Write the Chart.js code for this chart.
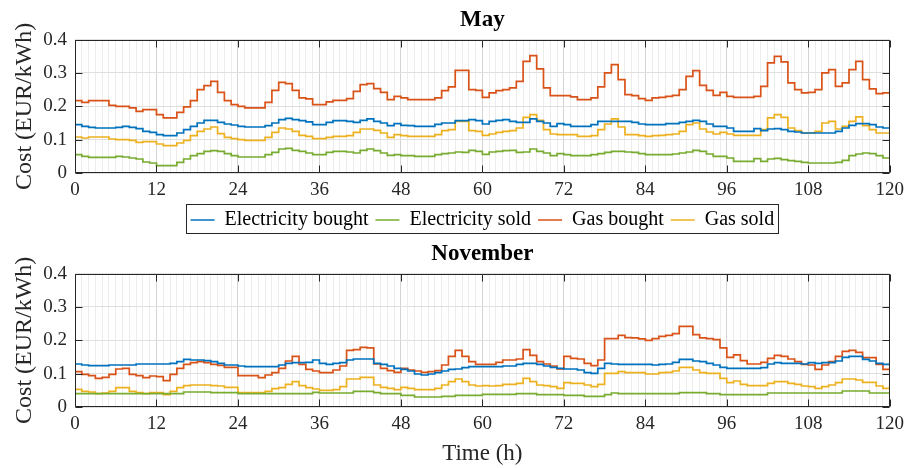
<!DOCTYPE html>
<html>
<head>
<meta charset="utf-8">
<script src="https://cdn.jsdelivr.net/npm/chart.js@4/dist/chart.umd.min.js"></script>
<style>
  body { margin: 0; background: #fff; }
  canvas { position: absolute; left: 0; }
</style>
</head>
<body>
<canvas id="mayChart" width="910" height="240" style="top:0"></canvas>
<canvas id="novChart" width="910" height="234" style="top:234px"></canvas>
<script>
// hourly tariffs over five days, last entry closes the final step at t = 120 h
const hours = Array.from({length: 121}, (_, i) => i);
const seriesNames = ['Electricity bought', 'Electricity sold', 'Gas bought', 'Gas sold'];
const seriesColors = ['#0072BD', '#77AC30', '#D95319', '#EDB120'];
const yTicks = [0, 0.1, 0.2, 0.3, 0.4];

const mayElecBought = [
  0.145, 0.140, 0.137, 0.135, 0.135, 0.135, 0.137, 0.140, 0.137, 0.133,
  0.125, 0.122, 0.115, 0.112, 0.112, 0.120, 0.130, 0.140, 0.150, 0.158,
  0.158, 0.152, 0.147, 0.144, 0.140, 0.138, 0.138, 0.138, 0.142, 0.150,
  0.160, 0.164, 0.160, 0.157, 0.153, 0.145, 0.145, 0.152, 0.157, 0.157,
  0.155, 0.152, 0.158, 0.162, 0.155, 0.150, 0.142, 0.148, 0.143, 0.142,
  0.140, 0.140, 0.140, 0.146, 0.150, 0.150, 0.157, 0.157, 0.160, 0.157,
  0.147, 0.155, 0.158, 0.160, 0.155, 0.152, 0.152, 0.162, 0.155, 0.150,
  0.140, 0.148, 0.145, 0.140, 0.140, 0.140, 0.145, 0.155, 0.155, 0.155,
  0.155, 0.155, 0.152, 0.147, 0.145, 0.145, 0.145, 0.148, 0.148, 0.152,
  0.155, 0.158, 0.155, 0.147, 0.140, 0.140, 0.135, 0.125, 0.125, 0.125,
  0.133, 0.127, 0.132, 0.133, 0.130, 0.125, 0.123, 0.120, 0.120, 0.120,
  0.120, 0.120, 0.125, 0.135, 0.143, 0.148, 0.148, 0.145, 0.138, 0.135,
  0.135
];
const mayElecSold = [
  0.055, 0.050, 0.047, 0.047, 0.047, 0.047, 0.050, 0.048, 0.045, 0.042,
  0.033, 0.030, 0.022, 0.022, 0.022, 0.032, 0.042, 0.052, 0.058, 0.065,
  0.067, 0.065, 0.058, 0.052, 0.048, 0.048, 0.048, 0.048, 0.055, 0.062,
  0.072, 0.074, 0.068, 0.065, 0.060, 0.055, 0.055, 0.062, 0.065, 0.065,
  0.063, 0.060, 0.068, 0.072, 0.067, 0.060, 0.053, 0.055, 0.052, 0.052,
  0.050, 0.050, 0.050, 0.055, 0.058, 0.060, 0.063, 0.062, 0.068, 0.065,
  0.056, 0.063, 0.065, 0.067, 0.068, 0.062, 0.063, 0.072, 0.065, 0.060,
  0.052, 0.058, 0.055, 0.052, 0.052, 0.052, 0.055, 0.058, 0.062, 0.065,
  0.065, 0.063, 0.062, 0.058, 0.055, 0.055, 0.055, 0.055, 0.057, 0.060,
  0.063, 0.068, 0.065, 0.057, 0.050, 0.050, 0.045, 0.035, 0.035, 0.035,
  0.043, 0.035, 0.042, 0.044, 0.040, 0.037, 0.035, 0.032, 0.030, 0.030,
  0.030, 0.030, 0.032, 0.038, 0.052, 0.057, 0.060, 0.058, 0.052, 0.045,
  0.045
];
const mayGasBought = [
  0.217, 0.212, 0.217, 0.217, 0.217, 0.203, 0.200, 0.200, 0.195, 0.185,
  0.190, 0.190, 0.175, 0.165, 0.165, 0.182, 0.198, 0.217, 0.250, 0.262,
  0.275, 0.242, 0.217, 0.205, 0.200, 0.195, 0.195, 0.195, 0.212, 0.248,
  0.272, 0.268, 0.248, 0.225, 0.222, 0.205, 0.205, 0.213, 0.218, 0.218,
  0.223, 0.245, 0.265, 0.268, 0.253, 0.242, 0.220, 0.230, 0.225, 0.220,
  0.220, 0.220, 0.220, 0.225, 0.247, 0.258, 0.308, 0.308, 0.250, 0.248,
  0.227, 0.240, 0.247, 0.250, 0.255, 0.275, 0.335, 0.352, 0.312, 0.255,
  0.232, 0.232, 0.232, 0.228, 0.220, 0.220, 0.225, 0.258, 0.300, 0.325,
  0.280, 0.235, 0.232, 0.223, 0.218, 0.225, 0.227, 0.230, 0.233, 0.250,
  0.290, 0.307, 0.263, 0.248, 0.233, 0.242, 0.230, 0.227, 0.227, 0.227,
  0.230, 0.260, 0.330, 0.350, 0.333, 0.270, 0.250, 0.240, 0.242, 0.250,
  0.300, 0.310, 0.260, 0.270, 0.310, 0.335, 0.280, 0.252, 0.238, 0.240,
  0.240
];
const mayGasSold = [
  0.108, 0.105, 0.108, 0.108, 0.108, 0.102, 0.100, 0.100, 0.098, 0.092,
  0.094, 0.094, 0.087, 0.082, 0.082, 0.090, 0.098, 0.112, 0.125, 0.132,
  0.138, 0.118, 0.107, 0.103, 0.100, 0.098, 0.098, 0.098, 0.107, 0.122,
  0.135, 0.132, 0.125, 0.113, 0.110, 0.103, 0.103, 0.107, 0.110, 0.110,
  0.112, 0.122, 0.132, 0.132, 0.128, 0.120, 0.107, 0.115, 0.112, 0.110,
  0.110, 0.110, 0.110, 0.115, 0.127, 0.130, 0.155, 0.155, 0.127, 0.125,
  0.113, 0.117, 0.122, 0.125, 0.127, 0.135, 0.167, 0.175, 0.158, 0.130,
  0.117, 0.115, 0.115, 0.115, 0.110, 0.110, 0.112, 0.130, 0.147, 0.162,
  0.138, 0.115, 0.115, 0.112, 0.110, 0.112, 0.113, 0.115, 0.117, 0.125,
  0.145, 0.150, 0.132, 0.123, 0.117, 0.122, 0.117, 0.113, 0.113, 0.113,
  0.113, 0.130, 0.165, 0.175, 0.167, 0.135, 0.127, 0.120, 0.120, 0.125,
  0.150, 0.155, 0.132, 0.140, 0.155, 0.168, 0.142, 0.130, 0.120, 0.120,
  0.120
];

const novElecBought = [
  0.129, 0.126, 0.124, 0.124, 0.124, 0.126, 0.126, 0.126, 0.126, 0.129,
  0.129, 0.129, 0.129, 0.129, 0.131, 0.136, 0.143, 0.141, 0.141, 0.139,
  0.136, 0.131, 0.126, 0.126, 0.123, 0.121, 0.121, 0.121, 0.121, 0.121,
  0.126, 0.131, 0.133, 0.133, 0.134, 0.141, 0.131, 0.128, 0.131, 0.133,
  0.141, 0.144, 0.144, 0.144, 0.131, 0.128, 0.123, 0.116, 0.113, 0.108,
  0.099, 0.096, 0.099, 0.103, 0.108, 0.113, 0.114, 0.118, 0.121, 0.121,
  0.121, 0.121, 0.121, 0.123, 0.123, 0.128, 0.131, 0.131, 0.128, 0.123,
  0.119, 0.116, 0.114, 0.114, 0.111, 0.103, 0.101, 0.116, 0.131, 0.129,
  0.128, 0.128, 0.128, 0.128, 0.128, 0.126, 0.128, 0.129, 0.134, 0.143,
  0.143, 0.138, 0.136, 0.131, 0.126, 0.119, 0.116, 0.116, 0.116, 0.116,
  0.116, 0.118, 0.129, 0.133, 0.131, 0.131, 0.131, 0.129, 0.133, 0.131,
  0.133, 0.133, 0.138, 0.149, 0.152, 0.152, 0.143, 0.138, 0.131, 0.128,
  0.128
];
const novElecSold = [
  0.040, 0.040, 0.040, 0.040, 0.040, 0.040, 0.040, 0.040, 0.040, 0.040,
  0.040, 0.040, 0.040, 0.040, 0.040, 0.040, 0.045, 0.045, 0.045, 0.045,
  0.043, 0.043, 0.043, 0.043, 0.040, 0.040, 0.040, 0.040, 0.040, 0.040,
  0.040, 0.040, 0.040, 0.040, 0.040, 0.044, 0.042, 0.042, 0.042, 0.042,
  0.042, 0.047, 0.047, 0.047, 0.043, 0.040, 0.040, 0.040, 0.035, 0.035,
  0.030, 0.030, 0.030, 0.030, 0.032, 0.032, 0.035, 0.035, 0.035, 0.035,
  0.038, 0.038, 0.038, 0.038, 0.038, 0.040, 0.040, 0.040, 0.037, 0.037,
  0.037, 0.037, 0.035, 0.035, 0.035, 0.032, 0.032, 0.032, 0.037, 0.042,
  0.040, 0.040, 0.040, 0.040, 0.040, 0.040, 0.040, 0.040, 0.040, 0.043,
  0.043, 0.043, 0.043, 0.040, 0.040, 0.037, 0.037, 0.037, 0.037, 0.037,
  0.037, 0.037, 0.042, 0.042, 0.042, 0.042, 0.042, 0.042, 0.042, 0.042,
  0.042, 0.042, 0.042, 0.048, 0.048, 0.048, 0.048, 0.042, 0.042, 0.042,
  0.042
];
const novGasBought = [
  0.106, 0.098, 0.094, 0.086, 0.089, 0.098, 0.114, 0.116, 0.098, 0.094,
  0.088, 0.093, 0.091, 0.079, 0.098, 0.116, 0.128, 0.133, 0.136, 0.133,
  0.128, 0.125, 0.119, 0.119, 0.094, 0.094, 0.094, 0.088, 0.096, 0.103,
  0.116, 0.138, 0.152, 0.128, 0.113, 0.108, 0.103, 0.103, 0.111, 0.123,
  0.170, 0.172, 0.179, 0.177, 0.129, 0.116, 0.109, 0.104, 0.116, 0.111,
  0.108, 0.104, 0.106, 0.109, 0.126, 0.152, 0.170, 0.152, 0.136, 0.128,
  0.128, 0.128, 0.134, 0.141, 0.141, 0.144, 0.172, 0.155, 0.136, 0.129,
  0.123, 0.114, 0.152, 0.146, 0.144, 0.131, 0.124, 0.141, 0.205, 0.205,
  0.215, 0.208, 0.207, 0.204, 0.200, 0.205, 0.212, 0.215, 0.220, 0.242,
  0.242, 0.217, 0.207, 0.205, 0.202, 0.177, 0.149, 0.156, 0.139, 0.129,
  0.129, 0.134, 0.146, 0.155, 0.152, 0.144, 0.136, 0.128, 0.126, 0.113,
  0.126, 0.136, 0.152, 0.167, 0.170, 0.164, 0.148, 0.148, 0.128, 0.113,
  0.136
];
const novGasSold = [
  0.053, 0.047, 0.045, 0.040, 0.042, 0.047, 0.058, 0.058, 0.047, 0.043,
  0.040, 0.043, 0.043, 0.037, 0.047, 0.058, 0.064, 0.066, 0.066, 0.066,
  0.064, 0.063, 0.059, 0.059, 0.043, 0.043, 0.043, 0.043, 0.047, 0.055,
  0.058, 0.068, 0.076, 0.064, 0.058, 0.054, 0.050, 0.050, 0.052, 0.061,
  0.084, 0.084, 0.089, 0.089, 0.066, 0.059, 0.056, 0.052, 0.059, 0.056,
  0.052, 0.052, 0.052, 0.056, 0.066, 0.076, 0.084, 0.076, 0.066, 0.063,
  0.064, 0.063, 0.064, 0.068, 0.068, 0.071, 0.086, 0.076, 0.066, 0.064,
  0.061, 0.056, 0.073, 0.071, 0.071, 0.066, 0.061, 0.068, 0.101, 0.101,
  0.106, 0.103, 0.103, 0.103, 0.099, 0.099, 0.103, 0.104, 0.108, 0.119,
  0.119, 0.111, 0.103, 0.101, 0.101, 0.086, 0.073, 0.078, 0.068, 0.064,
  0.064, 0.064, 0.071, 0.076, 0.076, 0.071, 0.068, 0.063, 0.061, 0.056,
  0.061, 0.066, 0.073, 0.084, 0.084, 0.081, 0.074, 0.074, 0.063, 0.056,
  0.066
];

const FONT = "'Liberation Serif', 'Times New Roman', serif";
const INK = '#262626';

// axes box with inward ticks, drawn over the lines
const frame = {
  id: 'frame',
  afterDatasetsDraw(chart) {
    const {ctx, chartArea: a, scales: {x, y}} = chart;
    const L = Math.round(a.left) + 0.5, R = Math.round(a.right) - 0.5;
    const T = Math.round(a.top) + 0.5, B = Math.round(a.bottom) - 0.5;
    ctx.save();
    ctx.strokeStyle = INK;
    ctx.lineWidth = 1;
    ctx.beginPath();
    x.ticks.filter(t => t.value % 12 === 0).forEach(t => {
      const px = Math.round(x.getPixelForValue(t.value)) + 0.5;
      ctx.moveTo(px, T); ctx.lineTo(px, T + 7);
      ctx.moveTo(px, B); ctx.lineTo(px, B - 7);
    });
    yTicks.forEach(v => {
      const py = Math.round(y.getPixelForValue(v)) + 0.5;
      ctx.moveTo(L, py); ctx.lineTo(L + 7, py);
      ctx.moveTo(R, py); ctx.lineTo(R - 7, py);
    });
    ctx.rect(L, T, R - L, B - T);
    ctx.stroke();
    ctx.restore();
  }
};

// thin border round the legend entries
const legendBox = {
  id: 'legendBox',
  afterDraw(chart) {
    const lg = chart.legend;
    if (!lg || !lg.options.display || !lg.legendHitBoxes.length) return;
    const hb = lg.legendHitBoxes;
    const left = Math.min(...hb.map(b => b.left)) - 5;
    const right = Math.max(...hb.map(b => b.left + b.width)) + 3;
    const top = Math.min(...hb.map(b => b.top)) - 6;
    const bottom = Math.max(...hb.map(b => b.top + b.height)) + 3;
    const ctx = chart.ctx;
    ctx.save();
    ctx.strokeStyle = INK;
    ctx.lineWidth = 1;
    ctx.strokeRect(Math.round(left) + 0.5, Math.round(top) + 0.5,
      Math.round(right - left), Math.round(bottom - top));
    ctx.restore();
  }
};

function makeChart(id, title, series, withLegend) {
  return new Chart(document.getElementById(id), {
    type: 'line',
    data: {
      datasets: seriesNames.map((name, i) => ({
        label: name,
        data: series[i].map((v, k) => ({x: hours[k], y: v})),
        borderColor: seriesColors[i],
        backgroundColor: seriesColors[i],
        borderWidth: 1.7,
        pointRadius: 0,
        stepped: true,
        fill: false
      }))
    },
    options: {
      responsive: false,
      animation: false,
      layout: {padding: {left: 0, right: 17, top: 0, bottom: 0}},
      plugins: {
        title: {
          display: true, text: title, color: '#000', fullSize: false,
          font: {family: FONT, size: 23, weight: 'bold'},
          padding: {top: 6, bottom: 6}
        },
        legend: {
          display: withLegend,
          position: 'bottom',
          fullSize: false,
          labels: {
            usePointStyle: true, pointStyle: 'line', pointStyleWidth: 24,
            color: '#000', font: {family: FONT, size: 20}, padding: 7
          }
        },
        tooltip: {enabled: false}
      },
      scales: {
        x: {
          type: 'linear', min: 0, max: 120,
          ticks: {
            stepSize: 1, autoSkip: false, maxRotation: 0, padding: 6,
            color: INK, font: {family: FONT, size: 19},
            callback: v => (v % 12 === 0 ? v : '')
          },
          grid: {
            drawTicks: false,
            color: c => (c.tick && c.tick.value % 12 === 0 ? '#d4d4d4' : '#ececec')
          },
          border: {display: false},
          title: {
            display: !withLegend, text: 'Time (h)', color: INK,
            font: {family: FONT, size: 23}, padding: {top: 0, bottom: 0}
          },
          afterFit: s => { s.height = withLegend ? 30 : 61; }
        },
        y: {
          min: 0, max: 0.4,
          ticks: {stepSize: 0.1, padding: 8, color: INK, font: {family: FONT, size: 19}},
          grid: {drawTicks: false, color: '#e0e0e0'},
          border: {display: false},
          title: {
            display: true, text: 'Cost (EUR/kWh)', color: INK,
            font: {family: FONT, size: 24}, padding: {top: 10, bottom: 10}
          },
          afterFit: s => { s.width = 75; }
        }
      }
    },
    plugins: [frame, legendBox]
  });
}

makeChart('mayChart', 'May', [mayElecBought, mayElecSold, mayGasBought, mayGasSold], true);
makeChart('novChart', 'November', [novElecBought, novElecSold, novGasBought, novGasSold], false);
</script>
</body>
</html>
